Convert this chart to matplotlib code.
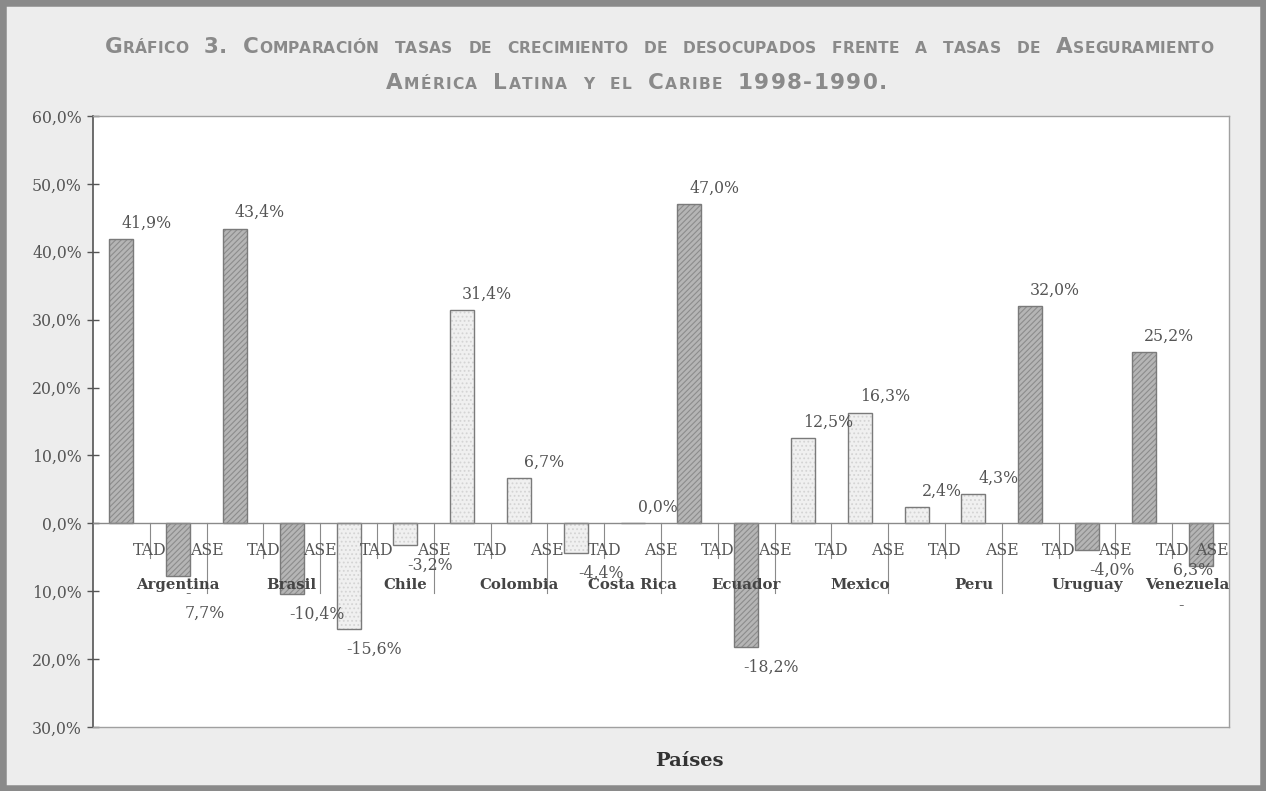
import numpy as np
import matplotlib.pyplot as plt
from matplotlib.patches import Rectangle

countries = ['Argentina', 'Brasil', 'Chile', 'Colombia', 'Costa Rica',
             'Ecuador', 'Mexico', 'Peru', 'Uruguay', 'Venezuela']
tad = [41.9, 43.4, -15.6, 31.4, -4.4, 47.0, 12.5, 2.4, 32.0, 25.2]
ase = [-7.7, -10.4, -3.2, 6.7, 0.0, -18.2, 16.3, 4.3, -4.0, -6.3]
sub_labels = ['TAD', 'ASE']
dark_countries = ['Argentina', 'Brasil', 'Ecuador', 'Uruguay', 'Venezuela']
y_ticks = [-30, -20, -10, 0, 10, 20, 30, 40, 50, 60]
title_lines = ['Gráfico 3. Comparación tasas de crecimiento de desocupados frente a tasas de Aseguramiento',
               'América Latina y el Caribe 1998-1990.']
x_title = 'Países'

W, H = 1266, 791
plt.rcParams['font.family'] = 'DejaVu Serif'
plt.rcParams['hatch.linewidth'] = 0.8

fig = plt.figure(figsize=(W / 100, H / 100), dpi=100, facecolor='#ededed')
ax = fig.add_axes([93 / W, 1 - 727 / H, (1229 - 93) / W, (727 - 116) / H])
ppu = (727 - 116) / 90.0  # pixels per percentage point

vals = [v for pair in zip(tad, ase) for v in pair]
groups = [c for c in countries for _ in sub_labels]
x = np.arange(len(vals)) + 0.5
dark = [g in dark_countries for g in groups]

# bars: hatched fill, then outline
fills = ax.bar(x, vals, 0.42, color=['#b5b5b5' if d else '#f0f0f0' for d in dark],
               edgecolor=['#8c8c8c' if d else '#d4d4d4' for d in dark], linewidth=0, zorder=2)
for p, d in zip(fills, dark):
    p.set_hatch('//////' if d else '....')
ax.bar(x, vals, 0.42, fill=False, edgecolor='#7a7a7a', linewidth=1, zorder=3)
ax.axhline(0, color='#8a8a8a', lw=1, zorder=4)

ax.set_xlim(0, 20)
ax.set_ylim(-30, 60)
ax.set_xticks([])
ax.set_yticks(y_ticks)
ax.set_yticklabels([f'{abs(v):.1f}'.replace('.', ',') + '%' for v in y_ticks])
ax.tick_params(axis='y', direction='inout', length=8, width=1, color='#555555',
               labelsize=11.3, labelcolor='#555555', pad=4)
ax.set_facecolor('white')
for side in ['top', 'right', 'bottom']:
    ax.spines[side].set_color('#a0a0a0')
    ax.spines[side].set_linewidth(1)
ax.spines['left'].set_color('#555555')
ax.spines['left'].set_linewidth(1.2)

# two level category axis hanging under the zero line
for i in range(1, len(vals)):
    long_tick = i % 2 == 0 and i != 18
    ax.plot([i, i], [0, -(70 if long_tick else 35) / ppu], color='#8a8a8a', lw=0.8,
            zorder=4, clip_on=False)
for i in range(len(vals)):
    last = i == len(vals) - 1
    ax.annotate(sub_labels[i % 2], (i + 1, 0), xytext=(0, -27), textcoords='offset pixels',
                ha='right' if last else 'center', va='center', fontsize=11.3,
                color='#555555', annotation_clip=False, zorder=5)
for k, c in enumerate(countries):
    last = k == len(countries) - 1
    ax.annotate(c, (20 if last else 2 * k + 1.5, 0), xytext=(0, -62), textcoords='offset pixels',
                ha='right' if last else 'center', va='center', fontsize=10.7,
                fontweight='bold', color='#444444', annotation_clip=False, zorder=5)

# value labels
label_fix = {1: ('-\n7,7%', 27, -28), 19: ('6,3%', -8, -4)}
for i, v in enumerate(vals):
    txt = f'{v:.1f}'.replace('.', ',') + '%'
    dx, dy = (25, 16) if v >= 0 else (25, -20)
    if i in label_fix:
        txt, dx, dy = label_fix[i]
    ax.annotate(txt, (x[i], v), xytext=(dx, dy), textcoords='offset pixels',
                ha='center', va='center', multialignment='left', fontsize=11.3,
                color='#555555', annotation_clip=False, zorder=6)
ax.annotate('-', (x[19], vals[19]), xytext=(-20, -39), textcoords='offset pixels',
            ha='center', va='center', fontsize=11.3, color='#555555', zorder=6)

fig.text(689 / W, 1 - 761 / H, x_title, ha='center', va='center', fontsize=14,
         fontweight='bold', color='#333333')

# title in small caps, one glyph at a time so the letters can be tracked
renderer = fig.canvas.get_renderer()


def small_caps_line(line, base_y, left, right, gap=16):
    items = []
    words = line.split(' ')
    for wi, word in enumerate(words):
        for ch in word:
            big = ch.isupper() or not ch.isalpha()
            t = fig.text(0, 1 - base_y / H, ch.upper(), fontsize=15.5 if big else 11.2,
                         fontweight='bold', family='DejaVu Sans', color='#8a8a8a',
                         ha='left', va='baseline')
            items.append((t, t.get_window_extent(renderer).width, wi))
    n_words = len(words)
    ink = sum(w for _, w, _ in items)
    track = (right - left - ink - gap * (n_words - 1)) / (len(items) - n_words)
    pos = left
    prev = None
    for t, w, wi in items:
        if prev is not None:
            pos += gap if wi != prev else track
        t.set_x(pos / W)
        pos += w
        prev = wi


small_caps_line(title_lines[0], 53, 105, 1213)
small_caps_line(title_lines[1], 89, 386, 887)

# frame around the whole figure
fig.patches.append(Rectangle((0, 0), 1, 1, transform=fig.transFigure, fill=False,
                             edgecolor='#8a8a8a', linewidth=9))

fig.savefig('out.png', dpi=100, facecolor=fig.get_facecolor())
